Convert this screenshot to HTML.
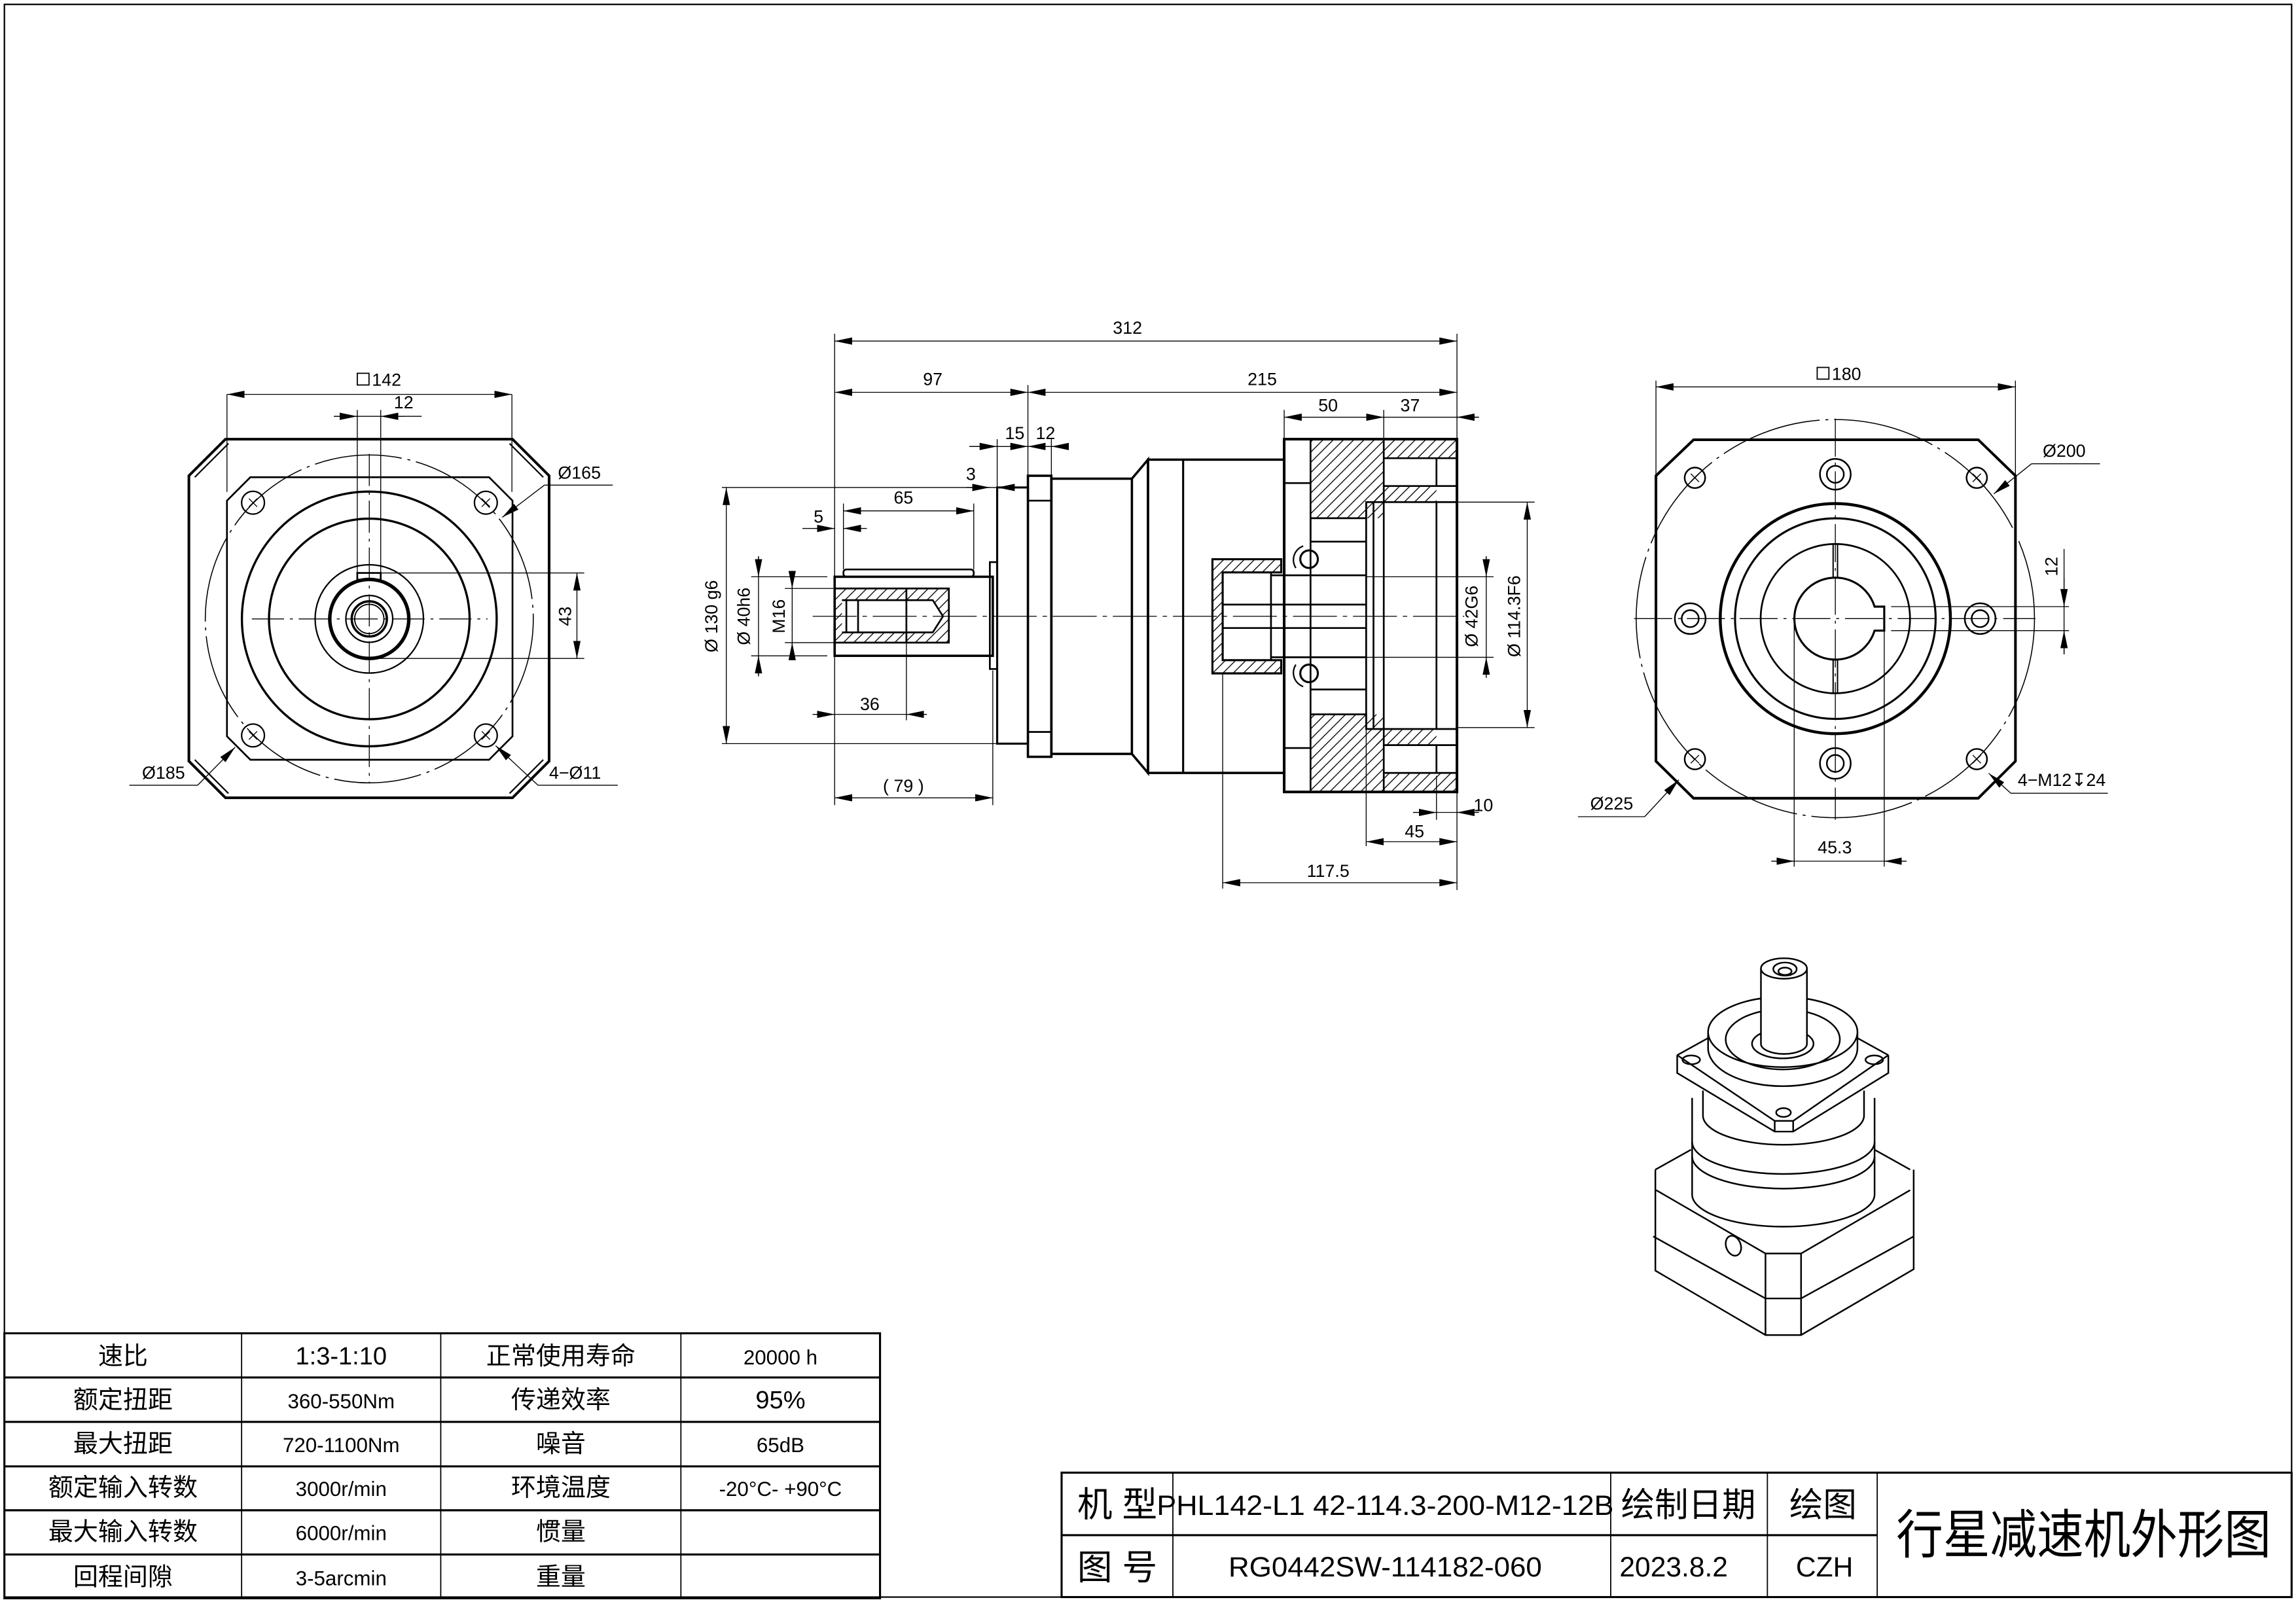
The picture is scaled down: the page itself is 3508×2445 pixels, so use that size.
<!DOCTYPE html>
<html><head><meta charset="utf-8">
<style>
html,body{margin:0;padding:0;background:#fff;}
svg{display:block;}
text{font-family:"Liberation Sans Narrow","Liberation Sans","Noto Sans CJK SC",sans-serif;fill:#000;}
.cjk{font-family:"Liberation Sans Narrow","Noto Sans CJK SC",sans-serif;}
</style></head><body>
<svg width="3508" height="2445" viewBox="0 0 1568 1093" preserveAspectRatio="none" xmlns="http://www.w3.org/2000/svg">
<defs>
<marker id="a" markerUnits="userSpaceOnUse" markerWidth="12" markerHeight="5" viewBox="0 0 12 5" refX="12" refY="2.5" orient="auto-start-reverse"><path d="M0,0 L12,2.5 L0,5 Z" fill="#000"/></marker>
<pattern id="h" patternUnits="userSpaceOnUse" width="7" height="7"><path d="M-1,8 L8,-1 M-1,1 L1,-1 M6,8 L8,6" stroke="#000" stroke-width="0.6"/></pattern>
</defs>
<rect x="0" y="0" width="1568" height="1093" fill="#fff"/>
<rect x="3" y="3" width="1562" height="1088" fill="none" stroke="#000" stroke-width="1"/>

<!-- ================= LEFT VIEW ================= -->
<g fill="none" stroke="#000">
<polygon points="154,300 350,300 375,325 375,520 350,545 154,545 129,520 129,325" stroke-width="1.8"/>
<path d="M133,326 L156,303 M348,303 L371,326 M371,519 L348,542 M156,542 L133,519" stroke-width="1"/>
<polygon points="171,326 334,326 350,342 350,503 334,519 171,519 155,503 155,342" stroke-width="1.2"/>
<circle cx="252.2" cy="422.8" r="112" stroke-width="0.7" stroke-dasharray="60 4 2 4"/>
<circle cx="252.2" cy="422.8" r="87" stroke-width="1.5"/>
<circle cx="252.2" cy="422.8" r="68.5" stroke-width="1.5"/>
<circle cx="252.2" cy="422.8" r="37" stroke-width="1"/>
<circle cx="252.2" cy="422.8" r="27" stroke-width="2.4"/>
<circle cx="252.2" cy="422.8" r="16" stroke-width="1"/>
<circle cx="252.2" cy="422.8" r="12" stroke-width="1.6"/>
<circle cx="252.2" cy="422.8" r="10" stroke-width="0.8"/>
<g stroke-width="1"><circle cx="172.8" cy="343.4" r="7.8"/><circle cx="331.8" cy="343.4" r="7.8"/><circle cx="172.8" cy="502.4" r="7.8"/><circle cx="331.8" cy="502.4" r="7.8"/></g>
<path d="M170,340.6 l5.6,5.6 M175.6,340.6 l-5.6,5.6 M329,340.6 l5.6,5.6 M334.6,340.6 l-5.6,5.6 M170,499.6 l5.6,5.6 M175.6,499.6 l-5.6,5.6 M329,499.6 l5.6,5.6 M334.6,499.6 l-5.6,5.6" stroke-width="0.6"/>
<rect x="244" y="391.4" width="16" height="4.6" stroke-width="1.2"/>
<path d="M172,422.8 L333,422.8 M252.2,310 L252.2,535" stroke-width="0.6" stroke-dasharray="22 4 2 4"/>
<!-- dims -->
<path d="M155,269.4 L155,336 M349.6,269.4 L349.6,336 M244,280 L244,391 M260,280 L260,391 M260,391.4 L399,391.4 M252,449.8 L399,449.8" stroke-width="0.6"/>
<line x1="155" y1="269.4" x2="349.6" y2="269.4" stroke-width="0.6" marker-start="url(#a)" marker-end="url(#a)"/>
<line x1="228" y1="284.4" x2="288" y2="284.4" stroke-width="0.6"/>
<line x1="228" y1="284.4" x2="244" y2="284.4" stroke-width="0.6" marker-end="url(#a)"/>
<line x1="276" y1="284.4" x2="260" y2="284.4" stroke-width="0.6" marker-end="url(#a)"/>
<line x1="394" y1="391.4" x2="394" y2="449.8" stroke-width="0.6" marker-start="url(#a)" marker-end="url(#a)"/>
<path d="M371.8,331.4 L418.5,331.4 M135,536.4 L88.3,536.4 M367.4,536.4 L421.9,536.4" stroke-width="0.6"/>
<line x1="371.8" y1="331.4" x2="343" y2="353.4" stroke-width="0.6" marker-end="url(#a)"/>
<line x1="135" y1="536.4" x2="160.6" y2="510.4" stroke-width="0.6" marker-end="url(#a)"/>
<line x1="367.4" y1="536.4" x2="338.5" y2="509.4" stroke-width="0.6" marker-end="url(#a)"/>
<rect x="244" y="255" width="8" height="8" stroke-width="0.8"/>
</g>
<g font-size="12">
<text x="254" y="263.5">142</text>
<text x="269" y="279">12</text>
<text x="390" y="421" text-anchor="middle" transform="rotate(-90 390 421)">43</text>
<text x="381" y="327">Ø165</text>
<text x="97" y="532">Ø185</text>
<text x="375" y="532">4−Ø11</text>
</g>

<!-- ================= SIDE VIEW ================= -->
<g fill="none" stroke="#000">
<!-- hatched regions -->
<g fill="url(#h)" stroke="none">
<rect x="895" y="300" width="50" height="54"/>
<rect x="895" y="488" width="50" height="53"/>
<rect x="945" y="300" width="50" height="13"/>
<rect x="945" y="528" width="50" height="13"/>
<rect x="938" y="332" width="43" height="11"/>
<rect x="938" y="498" width="43" height="11"/>
<path d="M828,382 L875,382 L875,391 L835,391 L835,451 L875,451 L875,460 L828,460 Z"/>
<path d="M570,402 L648,402 L648,439 L570,439 Z M575,410 L575,432 L637,432 L644,421 L637,410 Z" fill-rule="evenodd"/>
</g>
<!-- shaft -->
<rect x="570" y="394" width="108" height="54" stroke-width="1.6"/>
<rect x="576" y="389" width="89" height="5" rx="2" stroke-width="1.2"/>
<path d="M570,402 L648,402 L648,439 L570,439 M575,410 L637,410 L644,421 L637,432 L575,432 M578,410 L578,432 M586,410 L586,432 M619,402 L619,439" stroke-width="1.2"/>
<rect x="676" y="384" width="5" height="73" stroke-width="1.2"/>
<rect x="681" y="333" width="21" height="175" stroke-width="1.4"/>
<rect x="702" y="325" width="16" height="192" stroke-width="1.6"/>
<path d="M702,342 L718,342 M702,500 L718,500" stroke-width="1.2"/>
<rect x="718" y="327" width="55" height="188" stroke-width="1.6"/>
<path d="M773,327 L784,314 L784,528 L773,515" stroke-width="1.6"/>
<rect x="784" y="314" width="93" height="214" stroke-width="1.6"/>
<path d="M808,314 L808,528" stroke-width="1.4"/>
<rect x="877" y="300" width="118" height="241" stroke-width="1.8"/>
<path d="M895,300 L895,541 M877,330 L895,330 M877,511 L895,511 M945,300 L945,541" stroke-width="1.2"/>
<path d="M895,354 L933,354 L933,343 L995,343 M895,488 L933,488 L933,498 L995,498" stroke-width="1.2"/>
<path d="M945,313 L981,313 L981,332 L945,332 M945,528 L981,528 L981,509 L945,509 M981,313 L995,313 M981,332 L995,332 M981,509 L995,509 M981,528 L995,528" stroke-width="1.2"/>
<path d="M933,343 L933,498 M938,343 L938,498 M981,343 L981,498" stroke-width="1.2"/>
<path d="M895,370 L933,370 M895,471 L933,471 M895,354 L895,370" stroke-width="1.2"/>
<!-- bushing -->
<path d="M828,382 L875,382 L875,391 L835,391 L835,451 L875,451 L875,460 L828,460 Z" stroke-width="1.4"/>
<path d="M868,391 L868,451 M868,393 L933,393 M868,449 L933,449 M835,413 L933,413 M835,429 L933,429" stroke-width="1.2"/>
<circle cx="894" cy="382" r="6" stroke-width="1.4"/>
<circle cx="894" cy="460" r="6" stroke-width="1.4"/>
<path d="M885,388 A10,10 0 0 1 890,373 M885,454 A10,10 0 0 0 890,469" stroke-width="1"/>
<!-- centerline -->
<line x1="555" y1="421" x2="1000" y2="421" stroke-width="0.6" stroke-dasharray="30 4 3 4"/>
<!-- extension lines -->
<path d="M570,228 L570,550 M995,228 L995,608 M702,263 L702,325 M877,280 L877,300 M945,280 L945,300 M681,300 L681,333 M718,300 L718,325 M493,333 L681,333 M493,508 L681,508 M513,394 L565,394 M513,448 L565,448 M536,402 L570,402 M536,439 L570,439 M576,344 L576,389 M665,344 L665,389 M619,439 L619,492 M678,458 L678,550 M981,530 L981,560 M933,498 L933,578 M835,460 L835,607 M933,394 L1020,394 M933,449 L1020,449 M995,343 L1048,343 M995,497 L1048,497" stroke-width="0.6"/>
<!-- dim lines -->
<g stroke-width="0.6">
<line x1="570" y1="233" x2="995" y2="233" marker-start="url(#a)" marker-end="url(#a)"/>
<line x1="570" y1="268" x2="702" y2="268" marker-start="url(#a)" marker-end="url(#a)"/>
<line x1="702" y1="268" x2="995" y2="268" marker-start="url(#a)" marker-end="url(#a)"/>
<line x1="877" y1="285" x2="945" y2="285" marker-start="url(#a)" marker-end="url(#a)"/>
<line x1="945" y1="285" x2="1010" y2="285"/>
<line x1="1010" y1="285" x2="995" y2="285" marker-end="url(#a)"/>
<line x1="662" y1="305" x2="724" y2="305"/>
<line x1="662" y1="305" x2="681" y2="305" marker-end="url(#a)"/>
<line x1="690" y1="305" x2="702" y2="305" marker-end="url(#a)"/>
<line x1="712" y1="305" x2="702" y2="305" marker-end="url(#a)"/>
<line x1="724" y1="305" x2="718" y2="305" marker-end="url(#a)"/>
<line x1="660" y1="333" x2="676" y2="333" marker-end="url(#a)"/>
<line x1="695" y1="333" x2="681" y2="333" marker-end="url(#a)"/>
<line x1="576" y1="349" x2="665" y2="349" marker-start="url(#a)" marker-end="url(#a)"/>
<line x1="548" y1="361" x2="570" y2="361" marker-end="url(#a)"/>
<line x1="592" y1="361" x2="576" y2="361" marker-end="url(#a)"/>
<line x1="496" y1="333" x2="496" y2="508" marker-start="url(#a)" marker-end="url(#a)"/>
<line x1="518" y1="380" x2="518" y2="462"/>
<line x1="518" y1="380" x2="518" y2="394" marker-end="url(#a)"/>
<line x1="518" y1="462" x2="518" y2="448" marker-end="url(#a)"/>
<line x1="541" y1="395" x2="541" y2="447"/>
<line x1="541" y1="390" x2="541" y2="402" marker-end="url(#a)"/>
<line x1="541" y1="451" x2="541" y2="439" marker-end="url(#a)"/>
<line x1="555" y1="488" x2="633" y2="488"/>
<line x1="555" y1="488" x2="570" y2="488" marker-end="url(#a)"/>
<line x1="633" y1="488" x2="619" y2="488" marker-end="url(#a)"/>
<line x1="570" y1="545" x2="678" y2="545" marker-start="url(#a)" marker-end="url(#a)"/>
<line x1="965" y1="555" x2="1010" y2="555"/>
<line x1="965" y1="555" x2="981" y2="555" marker-end="url(#a)"/>
<line x1="1010" y1="555" x2="995" y2="555" marker-end="url(#a)"/>
<line x1="933" y1="575" x2="995" y2="575" marker-start="url(#a)" marker-end="url(#a)"/>
<line x1="835" y1="603" x2="995" y2="603" marker-start="url(#a)" marker-end="url(#a)"/>
<line x1="1015" y1="380" x2="1015" y2="463"/>
<line x1="1015" y1="380" x2="1015" y2="394" marker-end="url(#a)"/>
<line x1="1015" y1="463" x2="1015" y2="449" marker-end="url(#a)"/>
<line x1="1043" y1="343" x2="1043" y2="497" marker-start="url(#a)" marker-end="url(#a)"/>
</g>
</g>
<g font-size="12">
<text x="770" y="228" text-anchor="middle">312</text>
<text x="637" y="263" text-anchor="middle">97</text>
<text x="862" y="263" text-anchor="middle">215</text>
<text x="907" y="281" text-anchor="middle">50</text>
<text x="963" y="281" text-anchor="middle">37</text>
<text x="693" y="300" text-anchor="middle">15</text>
<text x="714" y="300" text-anchor="middle">12</text>
<text x="663" y="328" text-anchor="middle">3</text>
<text x="617" y="344" text-anchor="middle">65</text>
<text x="559" y="357" text-anchor="middle">5</text>
<text x="594" y="485" text-anchor="middle">36</text>
<text x="617" y="541" text-anchor="middle">( 79 )</text>
<text x="1013" y="554" text-anchor="middle">10</text>
<text x="966" y="572" text-anchor="middle">45</text>
<text x="907" y="599" text-anchor="middle">117.5</text>
<text x="490" y="421" text-anchor="middle" transform="rotate(-90 490 421)">Ø 130 g6</text>
<text x="512" y="421" text-anchor="middle" transform="rotate(-90 512 421)">Ø 40h6</text>
<text x="536" y="421" text-anchor="middle" transform="rotate(-90 536 421)">M16</text>
<text x="1009" y="421" text-anchor="middle" transform="rotate(-90 1009 421)">Ø 42G6</text>
<text x="1038" y="421" text-anchor="middle" transform="rotate(-90 1038 421)">Ø 114.3F6</text>
</g>

<!-- ================= RIGHT VIEW ================= -->
<g fill="none" stroke="#000">
<polygon points="1156.6,300.4 1351,300.4 1376.4,325 1376.4,520 1351,545.3 1156.6,545.3 1130.9,520 1130.9,325" stroke-width="1.8"/>
<circle cx="1253.4" cy="422.6" r="136" stroke-width="0.7" stroke-dasharray="70 4 2 4"/>
<circle cx="1253.4" cy="422.6" r="78.6" stroke-width="2"/>
<circle cx="1253.4" cy="422.6" r="68.5" stroke-width="1.4"/>
<circle cx="1253.4" cy="422.6" r="51" stroke-width="1.2"/>
<path d="M1280.2,414.4 A28,28 0 1 0 1280.2,430.8 L1286.8,430.8 L1286.8,414.4 Z" stroke-width="1.4" fill="#fff"/>
<path d="M1251.9,371.6 L1251.9,394.6 M1254.9,371.6 L1254.9,394.6 M1251.9,450.6 L1251.9,473.6 M1254.9,450.6 L1254.9,473.6" stroke-width="0.9"/>
<g stroke-width="1.1"><circle cx="1157.5" cy="326.4" r="7"/><circle cx="1350" cy="326.4" r="7"/><circle cx="1157.5" cy="518.6" r="7"/><circle cx="1350" cy="518.6" r="7"/></g>
<path d="M1154.7,323.6 l5.6,5.6 M1160.3,323.6 l-5.6,5.6 M1347.2,323.6 l5.6,5.6 M1352.8,323.6 l-5.6,5.6 M1154.7,515.8 l5.6,5.6 M1160.3,515.8 l-5.6,5.6 M1347.2,515.8 l5.6,5.6 M1352.8,515.8 l-5.6,5.6" stroke-width="0.6"/>
<g stroke-width="1.1">
<circle cx="1253.4" cy="324" r="10.5"/><circle cx="1253.4" cy="324" r="5.8"/>
<circle cx="1253.4" cy="521.5" r="10.5"/><circle cx="1253.4" cy="521.5" r="5.8"/>
<circle cx="1154.3" cy="422.6" r="10.5"/><circle cx="1154.3" cy="422.6" r="5.8"/>
<circle cx="1352.3" cy="422.6" r="10.5"/><circle cx="1352.3" cy="422.6" r="5.8"/>
</g>
<path d="M1116,422.6 L1390,422.6 M1253.4,286 L1253.4,560" stroke-width="0.6" stroke-dasharray="26 4 2 4"/>
<!-- dims -->
<path d="M1130.9,260 L1130.9,325 M1376.4,260 L1376.4,370 M1291.5,414.4 L1413,414.4 M1291.5,430.8 L1413,430.8 M1225.3,422.6 L1225.3,592 M1286.8,430.8 L1286.8,592" stroke-width="0.6"/>
<line x1="1130.9" y1="264.3" x2="1376.4" y2="264.3" stroke-width="0.6" marker-start="url(#a)" marker-end="url(#a)"/>
<line x1="1409.6" y1="375" x2="1409.6" y2="447" stroke-width="0.6"/>
<line x1="1409.6" y1="395" x2="1409.6" y2="414.4" stroke-width="0.6" marker-end="url(#a)"/>
<line x1="1409.6" y1="447" x2="1409.6" y2="430.8" stroke-width="0.6" marker-end="url(#a)"/>
<line x1="1209.7" y1="588.3" x2="1302" y2="588.3" stroke-width="0.6"/>
<line x1="1209.7" y1="588.3" x2="1225.3" y2="588.3" stroke-width="0.6" marker-end="url(#a)"/>
<line x1="1302" y1="588.3" x2="1286.8" y2="588.3" stroke-width="0.6" marker-end="url(#a)"/>
<path d="M1387.4,316.8 L1434.1,316.8 M1123.2,557.9 L1077.6,557.9 M1373.3,541.9 L1439.5,541.9" stroke-width="0.6"/>
<line x1="1387.4" y1="316.8" x2="1361.6" y2="337.4" stroke-width="0.6" marker-end="url(#a)"/>
<line x1="1123.2" y1="557.9" x2="1146.5" y2="532.7" stroke-width="0.6" marker-end="url(#a)"/>
<line x1="1373.3" y1="541.9" x2="1358.1" y2="528.2" stroke-width="0.6" marker-end="url(#a)"/>
<rect x="1241" y="251" width="8" height="8" stroke-width="0.8"/>
</g>
<g font-size="12">
<text x="1251" y="259.5">180</text>
<text x="1405" y="387" text-anchor="middle" transform="rotate(-90 1405 387)">12</text>
<text x="1253" y="583" text-anchor="middle">45.3</text>
<text x="1395" y="312">Ø200</text>
<text x="1086" y="553">Ø225</text>
<text x="1378" y="537" textLength="60">4−M12↧24</text>
</g>

<!-- ================= ISO VIEW ================= -->
<g fill="none" stroke="#000" stroke-width="1.1">
<!-- lower block -->
<path d="M1130.5,799 L1154.8,785.4 M1280.2,785.4 L1304.5,799 M1130.5,799 L1130.5,868 L1205.7,912 L1230,912 L1306.9,867 L1306.9,799"/>
<path d="M1131,813 L1205.7,856.3 L1230,856.3 L1304.5,813"/>
<path d="M1129,844.6 L1205.7,887 L1230,887 L1306.9,844.6"/>
<path d="M1205.7,856.3 L1205.7,912 M1230,856.3 L1230,912"/>
<ellipse cx="1183.8" cy="851" rx="5" ry="7" transform="rotate(-20 1183.8 851)"/>
<!-- body cylinder -->
<path d="M1155.6,750 L1155.6,816 A62.3,22 0 0 0 1280.2,816 L1280.2,750" fill="#fff"/>
<path d="M1155.6,780 A62.3,22 0 0 0 1280.2,780"/>
<path d="M1155.6,790 A62.3,22 0 0 0 1280.2,790"/>
<path d="M1163,745 L1163,762 A55,20 0 0 0 1273,762 L1273,745"/>
<!-- square flange -->
<path d="M1145.4,720.8 L1168,708.3 M1289.6,720.8 L1267,708.3 M1145.4,720.8 L1212,765.7 L1224.6,765.7 L1289.6,720.8 M1145.4,720.8 L1145.4,733 L1212,773 L1224.6,773 L1289.6,733 L1289.6,720.8 M1212,765.7 L1212,773 M1224.6,765.7 L1224.6,773" fill="#fff"/>
<ellipse cx="1155" cy="724" rx="6" ry="3"/>
<ellipse cx="1280" cy="724" rx="6" ry="3"/>
<ellipse cx="1218" cy="760" rx="5" ry="3"/>
<!-- round flange -->
<path d="M1166.5,705 L1166.5,716 A51,26 0 0 0 1268.5,716 L1268.5,705" fill="#fff"/>
<ellipse cx="1217.5" cy="705" rx="51" ry="24" fill="#fff"/>
<ellipse cx="1217.5" cy="710" rx="39" ry="20.6"/>
<ellipse cx="1217.5" cy="713" rx="21" ry="10"/>
<!-- shaft -->
<path d="M1202.6,661.6 L1202.6,713 A15.7,7 0 0 0 1234,713 L1234,661.6" fill="#fff"/>
<ellipse cx="1218.3" cy="661.6" rx="15.7" ry="7" fill="#fff"/>
<ellipse cx="1219" cy="662" rx="8" ry="4.5"/>
<ellipse cx="1219" cy="663.5" rx="4.5" ry="2.5"/>
</g>

<!-- ================= SPEC TABLE ================= -->
<g fill="none" stroke="#000">
<rect x="3" y="910.8" width="598" height="181" stroke-width="1.4"/>
<path d="M3,941 L601,941 M3,971.3 L601,971.3 M3,1001.7 L601,1001.7 M3,1031.7 L601,1031.7 M3,1061.9 L601,1061.9" stroke-width="1.4"/>
<path d="M165,910.8 L165,1092 M301,910.8 L301,1092 M465,910.8 L465,1092" stroke-width="0.8"/>
</g>
<g class="cjk" font-size="17" text-anchor="middle">
<text x="84" y="932">速比</text><text x="233" y="932">1:3-1:10</text><text x="383" y="932">正常使用寿命</text><text x="533" y="932" font-size="14">20000 h</text>
<text x="84" y="962">额定扭距</text><text x="233" y="962" font-size="14">360-550Nm</text><text x="383" y="962">传递效率</text><text x="533" y="962">95%</text>
<text x="84" y="992">最大扭距</text><text x="233" y="992" font-size="14">720-1100Nm</text><text x="383" y="992">噪音</text><text x="533" y="992" font-size="14">65dB</text>
<text x="84" y="1022">额定输入转数</text><text x="233" y="1022" font-size="14">3000r/min</text><text x="383" y="1022">环境温度</text><text x="533" y="1022" font-size="14">-20°C- +90°C</text>
<text x="84" y="1052">最大输入转数</text><text x="233" y="1052" font-size="14">6000r/min</text><text x="383" y="1052">惯量</text>
<text x="84" y="1083">回程间隙</text><text x="233" y="1083" font-size="14">3-5arcmin</text><text x="383" y="1083">重量</text>
</g>

<!-- ================= TITLE BLOCK ================= -->
<g fill="none" stroke="#000">
<rect x="725" y="1006" width="840" height="85" stroke-width="1.4"/>
<path d="M725,1048.7 L1282,1048.7" stroke-width="1.4"/>
<path d="M801,1006 L801,1091 M1100,1006 L1100,1091 M1207,1006 L1207,1091 M1282,1006 L1282,1091" stroke-width="0.8"/>
</g>
<g class="cjk" text-anchor="middle">
<text x="763" y="1036" font-size="24">机 型</text>
<text x="946" y="1035" font-size="19" textLength="312" lengthAdjust="spacingAndGlyphs">PHL142-L1 42-114.3-200-M12-12B</text>
<text x="1153" y="1036" font-size="23" textLength="92" lengthAdjust="spacingAndGlyphs">绘制日期</text>
<text x="1245" y="1036" font-size="23">绘图</text>
<text x="763" y="1079" font-size="24">图 号</text>
<text x="946" y="1077" font-size="19" textLength="214" lengthAdjust="spacingAndGlyphs">RG0442SW-114182-060</text>
<text x="1143" y="1077" font-size="19" textLength="74" lengthAdjust="spacingAndGlyphs">2023.8.2</text>
<text x="1246" y="1077" font-size="19">CZH</text>
<text x="1423" y="1061" font-size="36" textLength="256" lengthAdjust="spacingAndGlyphs">行星减速机外形图</text>
</g>
</svg>
</body></html>
